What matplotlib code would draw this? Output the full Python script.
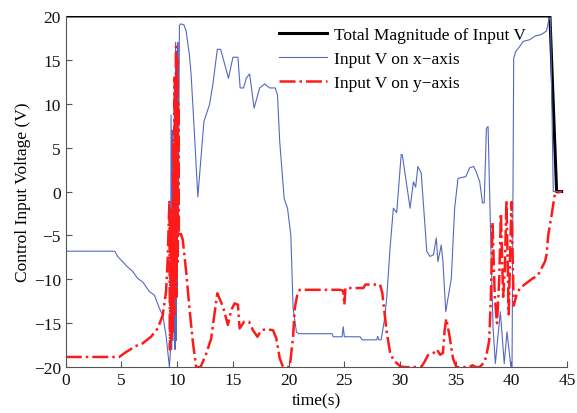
import matplotlib
matplotlib.use('Agg')
import matplotlib.pyplot as plt

plt.rcParams['font.family'] = ['Liberation Serif', 'DejaVu Serif']
plt.rcParams['mathtext.fontset'] = 'stix'

# total magnitude of the input
t_mag = [0, 43.45, 44.05, 44.5]
v_mag = [20, 20, 0, 0]

# input on x-axis
t_x = [0, 4.4, 4.65, 5.1, 5.55, 6.0, 6.45, 6.9, 7.5, 7.95, 8.4, 8.7, 9.0, 9.3,
       9.4, 9.45, 9.5, 9.55, 9.6, 9.65, 9.7, 9.75, 9.8, 9.85, 9.9, 9.95, 10.0,
       10.05, 10.1, 10.2, 10.3, 10.6, 10.8, 11.1, 11.25, 11.55, 11.85, 12.4,
       12.9, 13.2, 13.6, 13.9, 14.6, 15.0, 15.45, 15.65, 15.95, 16.2, 16.5,
       16.9, 17.4, 17.85, 18.3, 18.8, 19.0, 19.2, 19.6, 19.9, 20.2, 20.4, 20.7,
       20.9, 23.9, 24.0, 24.8, 24.9, 25.0, 26.4, 26.6, 27.9, 28.0, 28.1, 28.3,
       28.6, 28.8, 29.1, 29.4, 29.7, 30.1, 30.2, 30.9, 31.2, 31.4, 31.6, 31.9,
       32.4, 32.7, 33.0, 33.25, 33.4, 33.7, 33.85, 34.1, 34.6, 34.9, 35.2,
       35.9, 36.25, 36.6, 36.85, 37.15, 37.4, 37.55, 37.75, 37.9, 38.2, 38.35,
       38.55, 39.0, 39.35, 39.6, 39.95, 40.05, 40.2, 40.4, 40.75, 41.05, 41.65,
       42.1, 42.7, 43.15, 43.35, 43.5, 43.75, 44.5]
v_x = [-6.8, -6.8, -7.4, -8.0, -8.6, -9.1, -9.9, -10.3, -11.4, -11.8, -13.3,
       -14.1, -16.4, -20, -18, 8.7, -18, 7, -17, 5, -16, 12, -18, 17, -17, 16,
       -12, 17, -5, 18.9, 19.1, 19.0, 18.3, 15.5, 13.3, 6.5, -0.6, 8.0, 9.9,
       12.2, 16.2, 16.2, 12.9, 15.3, 15.3, 11.8, 11.8, 12.9, 13.4, 9.5, 11.8,
       12.25, 11.8, 11.8, 11.0, 5.7, -0.8, -1.9, -5.0, -13.3, -16.0, -16.2,
       -16.2, -16.55, -16.55, -15.4, -16.55, -16.55, -16.9, -16.9, -16.5,
       -16.9, -16.9, -14.6, -12.2, -6.5, -1.9, -2.4, 4.2, 4.2, -1.9, 1.1, 0.5,
       2.85, 2.1, -6.85, -7.4, -7.2, -5.3, -8.0, -6.1, -8.0, -13.7, -9.9, -1.9,
       1.5, 1.7, 2.7, 2.85, 2.2, 1.1, -1.3, -1.3, 7.2, 7.4, -8.75, -15.6,
       -19.6, -13.7, -19.6, -16.0, -20, -20, 15.2, 16.0, 16.55, 17.1, 17.3,
       17.7, 17.9, 18.3, 19.6, 19.8, 0, 0]

# input on y-axis
t_y = [0, 4.8, 5.4, 6.3, 6.9, 7.65, 8.25, 8.7, 9.0, 9.15, 9.3, 9.35, 9.42,
       9.48, 9.55, 9.6, 9.67, 9.72, 9.78, 9.83, 9.9, 9.95, 10.0, 10.05, 10.1,
       10.15, 10.25, 10.5, 10.8, 11.1, 11.4, 11.7, 12.1, 12.6, 13.05, 13.35,
       13.6, 14.1, 14.55, 14.85, 15.15, 15.45, 15.6, 16.0, 16.45, 16.8, 17.2,
       17.55, 18.0, 18.6, 18.9, 19.2, 19.5, 20.1, 20.4, 20.55, 20.8, 21.0,
       24.6, 24.9, 25.0, 25.1, 26.7, 26.9, 28.2, 28.4, 28.8, 29.1, 29.4, 30.0,
       30.3, 31.9, 32.2, 32.5, 33.0, 33.3, 33.6, 33.85, 34.0, 34.15, 34.45,
       34.75, 35.05, 36.2, 36.5, 36.8, 37.15, 37.6, 37.75, 38.0, 38.15, 38.3,
       38.5, 38.7, 38.9, 39.05, 39.25, 39.4, 39.55, 39.75, 39.9, 40.0, 40.2,
       40.45, 40.75, 41.9, 42.35, 43.0, 43.15, 43.3, 43.6, 43.9, 44.5]
v_y = [-18.85, -18.85, -18.3, -17.6, -17.3, -16.55, -15.6, -14.1, -11.4, -7.6,
       -1.0, -18, -2, -17, -3, -16, 6, -14, 13, -10, 16.5, -12, 15, -8, 10, -5,
       -4.5, -5.5, -9.1, -13.3, -17.1, -20, -20, -18.5, -16.75, -13.9, -11.6,
       -13.1, -15.2, -13.5, -12.75, -12.9, -15.6, -14.85, -14.85, -15.8,
       -16.55, -15.8, -15.7, -15.8, -16.75, -19.0, -20, -20, -16.55, -13.3,
       -11.6, -11.2, -11.2, -11.3, -12.9, -11.0, -11.0, -10.6, -10.6, -11.5,
       -16.0, -18.3, -19.2, -19.9, -20, -20, -19.4, -18.65, -18.4, -18.0,
       -18.6, -18.4, -15.8, -14.5, -16.55, -19.0, -20, -20, -19.8, -20, -20,
       -19.4, -18.65, -17, -12, -3.5, -12, -15, -10, -2.5, -12, -9, -1, -14,
       -6, -1.2, -13, -11.8, -11.0, -9.9, -9.6, -8.0, -7.2, -4.95, -2.7, -0.2,
       0]

fig = plt.figure(figsize=(5.77, 4.14), dpi=100)
ax = fig.add_axes([0.114, 0.111, 0.869, 0.848])

ax.plot(t_mag, v_mag, color='black', lw=2.2, label='Total Magnitude of Input V')
ax.plot(t_x, v_x, color='#5468c2', lw=0.8, label='Input V on x\u2212axis')
ax.plot(t_y, v_y, color='#ff1a1a', lw=1.8, ls='-.', label='Input V on y\u2212axis')

ax.set_xlim(0, 45)
ax.set_ylim(-20, 20)
ax.set_xticks(range(0, 46, 5))
ax.set_yticks(range(-20, 21, 5))
ax.spines['top'].set_visible(False)
ax.spines['right'].set_visible(False)
for s in ['left', 'bottom']:
    ax.spines[s].set_color('#555555')
    ax.spines[s].set_linewidth(0.8)
ax.tick_params(direction='in', length=4, width=0.8, color='#555555',
               labelsize=12.5, labelcolor='#111111')

ax.set_xlabel('time(s)', fontsize=12.5, labelpad=3)
ax.set_ylabel('Control Input Voltage (V)', fontsize=12.5, labelpad=2)

ax.legend(loc='upper left', bbox_to_anchor=(0.425, 0.968), frameon=False,
          fontsize=12.5, handlelength=2.8, handletextpad=0.35, labelspacing=0.45,
          borderpad=0, borderaxespad=0)

fig.savefig('out.png', dpi=100)
